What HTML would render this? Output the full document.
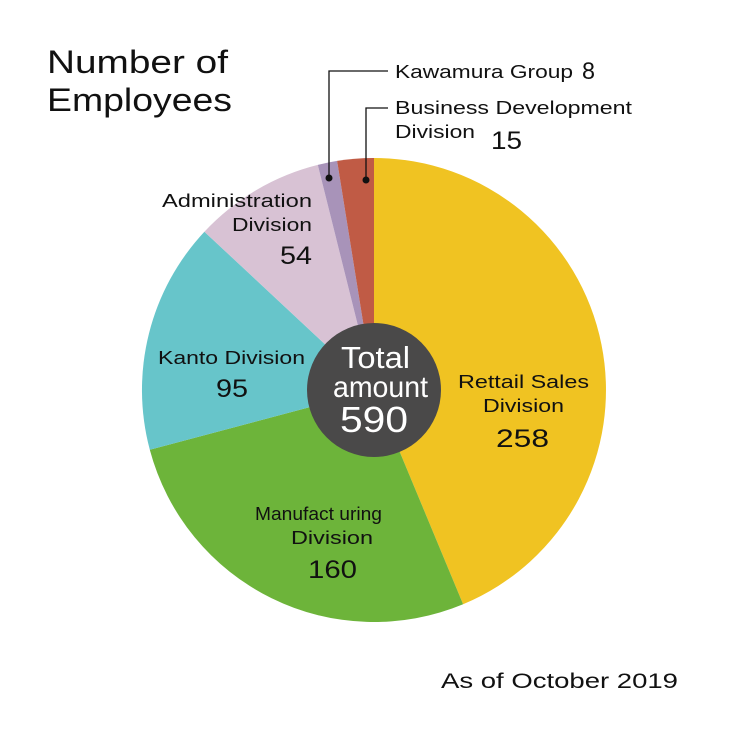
<!DOCTYPE html>
<html><head><meta charset="utf-8"><style>
body{margin:0;background:#fff;}
svg text{font-family:"Liberation Sans","DejaVu Sans",sans-serif;fill:#111;}
</style></head><body>
<svg width="738" height="738" viewBox="0 0 738 738" xmlns="http://www.w3.org/2000/svg">
<rect width="738" height="738" fill="#fff"/>
<path d="M374,390 L374,158 A232,232 0 0 1 463.1,604.2 Z" fill="#f0c322"/>
<path d="M374,390 L463.1,604.2 A232,232 0 0 1 149.8,449.8 Z" fill="#6db43a"/>
<path d="M374,390 L149.8,449.8 A232,232 0 0 1 204.4,231.7 Z" fill="#67c5ca"/>
<path d="M374,390 L204.4,231.7 A232,232 0 0 1 317.8,164.9 Z" fill="#d8c2d4"/>
<path d="M374,390 L317.8,164.9 A232,232 0 0 1 337.1,160.9 Z" fill="#a893b9"/>
<path d="M374,390 L337.1,160.9 A232,232 0 0 1 374,158 Z" fill="#c05b45"/>
<circle cx="374" cy="390" r="67" fill="#4a4949"/>
<text x="341" y="368" font-size="31" textLength="69" lengthAdjust="spacingAndGlyphs" style="fill:#fff">Total</text>
<text x="333" y="397" font-size="30" textLength="95" lengthAdjust="spacingAndGlyphs" style="fill:#fff">amount</text>
<text x="340" y="432" font-size="36" textLength="68" lengthAdjust="spacingAndGlyphs" style="fill:#fff">590</text>
<text x="47" y="73" font-size="32" textLength="181" lengthAdjust="spacingAndGlyphs">Number of</text>
<text x="47" y="111" font-size="32" textLength="185" lengthAdjust="spacingAndGlyphs">Employees</text>
<polyline points="329,178 329,71 388,71" fill="none" stroke="#111" stroke-width="1.3"/>
<circle cx="329" cy="178" r="3.5" fill="#111"/>
<polyline points="366,180 366,108 388,108" fill="none" stroke="#111" stroke-width="1.3"/>
<circle cx="366" cy="180" r="3.5" fill="#111"/>
<text x="395" y="78" font-size="18" textLength="178" lengthAdjust="spacingAndGlyphs">Kawamura Group</text>
<text x="582" y="79" font-size="24" textLength="13" lengthAdjust="spacingAndGlyphs">8</text>
<text x="395" y="114" font-size="18" textLength="237" lengthAdjust="spacingAndGlyphs">Business Development</text>
<text x="395" y="138" font-size="18" textLength="80" lengthAdjust="spacingAndGlyphs">Division</text>
<text x="491" y="149" font-size="25" textLength="31" lengthAdjust="spacingAndGlyphs">15</text>
<text x="162" y="207" font-size="18" textLength="150" lengthAdjust="spacingAndGlyphs">Administration</text>
<text x="232" y="231" font-size="18" textLength="80" lengthAdjust="spacingAndGlyphs">Division</text>
<text x="280" y="264" font-size="25" textLength="32" lengthAdjust="spacingAndGlyphs">54</text>
<text x="158" y="364" font-size="18" textLength="147" lengthAdjust="spacingAndGlyphs">Kanto Division</text>
<text x="216" y="397" font-size="25" textLength="32" lengthAdjust="spacingAndGlyphs">95</text>
<text x="458" y="388" font-size="18" textLength="131" lengthAdjust="spacingAndGlyphs">Rettail Sales</text>
<text x="483" y="412" font-size="18" textLength="81" lengthAdjust="spacingAndGlyphs">Division</text>
<text x="496" y="447" font-size="25" textLength="53" lengthAdjust="spacingAndGlyphs">258</text>
<text x="255" y="520" font-size="18" textLength="127" lengthAdjust="spacingAndGlyphs">Manufact uring</text>
<text x="291" y="544" font-size="18" textLength="82" lengthAdjust="spacingAndGlyphs">Division</text>
<text x="308" y="578" font-size="25" textLength="49" lengthAdjust="spacingAndGlyphs">160</text>
<text x="441" y="688" font-size="21" textLength="237" lengthAdjust="spacingAndGlyphs">As of October 2019</text>
</svg>
</body></html>
